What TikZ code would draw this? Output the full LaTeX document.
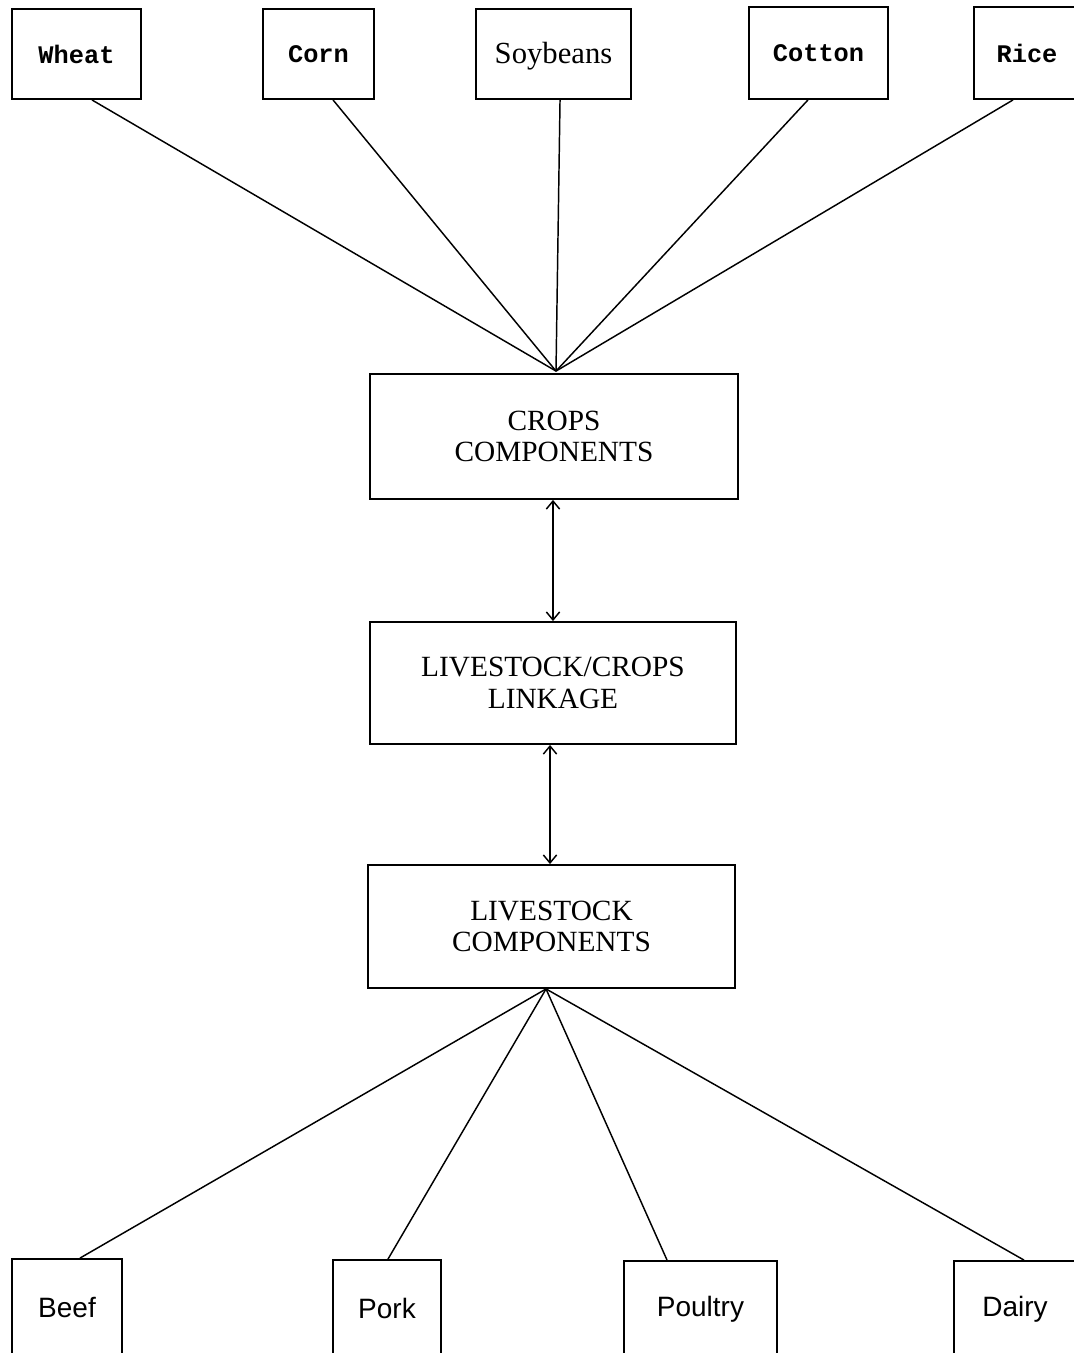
\documentclass[tikz,border=0pt]{standalone}
\usepackage{fontspec}
\setmainfont{Liberation Serif}
\newfontfamily\monof{Liberation Mono}
\newfontfamily\sansf{Liberation Sans}
\usetikzlibrary{arrows.meta}
\tikzset{
  box/.style={draw, line width=1.4pt, rectangle, inner sep=0pt, align=center},
  toplab/.style={box, minimum height=67.5pt, font=\monof\bfseries\fontsize{19}{21}\selectfont},
  botlab/.style={box, minimum height=72pt, font=\sansf\fontsize{21}{23}\selectfont},
  midbox/.style={box, font=\fontsize{22}{23.5}\selectfont},
  conn/.style={line width=1.1pt},
  link/.style={line width=1.1pt, {Straight Barb[length=6pt,width=10pt]}-{Straight Barb[length=6pt,width=10pt]}}
}
\begin{document}
\begin{tikzpicture}[x=0.75pt,y=-0.75pt]
\useasboundingbox (0,0) rectangle (1074,1353);
\clip (0,0) rectangle (1074,1353);
% top crop boxes
\node[toplab, minimum width=96.75pt] (wheat) at (76.5,54) {Wheat};
\node[toplab, minimum width=83.25pt] (corn) at (318.5,54) {Corn};
\node[toplab, minimum width=116.25pt, font=\fontsize{23}{25}\selectfont, text depth=2pt] (soy) at (553.5,54) {Soybeans};
\node[toplab, minimum width=104.25pt, minimum height=69pt] (cotton) at (818.5,53) {Cotton};
\node[toplab, minimum width=79.5pt, minimum height=69pt] (rice) at (1027,53) {Rice};
% middle boxes
\node[midbox, minimum width=276pt, minimum height=93.75pt] (crops) at (554,436.5) {CROPS\\COMPONENTS};
\node[midbox, minimum width=274.5pt, minimum height=91.5pt] (link) at (553,683) {LIVESTOCK/CROPS\\LINKAGE};
\node[midbox, minimum width=275.25pt, minimum height=92.25pt] (live) at (551.5,926.5) {LIVESTOCK\\COMPONENTS};
% bottom livestock boxes
\node[botlab, minimum width=82.5pt] (beef) at (67,1307) {Beef};
\node[botlab, minimum width=81pt] (pork) at (387,1308) {Pork};
\node[botlab, minimum width=114.75pt] (poultry) at (700.5,1309) {Poultry};
\node[botlab, minimum width=91.5pt] (dairy) at (1015,1309) {Dairy};
% convergence points
\coordinate (capex) at ([xshift=1.5pt,yshift=1.5pt]crops.north);
\coordinate (lapex) at ([xshift=-4.1pt]live.south);
% crop connectors
\draw[conn] ([xshift=11.6pt]wheat.south) -- (capex);
\draw[conn] ([xshift=10.9pt]corn.south) -- (capex);
\draw[conn] ([xshift=4.9pt]soy.south) -- (capex);
\draw[conn] ([xshift=-7.9pt]cotton.south) -- (capex);
\draw[conn] ([xshift=-10.5pt]rice.south) -- (capex);
% linkage arrows
\draw[link] ([xshift=-0.75pt]crops.south) -- ([xshift=-0.75pt]crops.south |- link.north);
\draw[link] ([xshift=-2.25pt]link.south) -- ([xshift=-2.25pt]link.south |- live.north);
% livestock connectors
\draw[conn] (lapex) -- ([xshift=9.75pt]beef.north);
\draw[conn] (lapex) -- ([xshift=0.75pt]pork.north);
\draw[conn] (lapex) -- ([xshift=-25.1pt]poultry.north);
\draw[conn] (lapex) -- ([xshift=6.75pt]dairy.north);
\end{tikzpicture}
\end{document}
